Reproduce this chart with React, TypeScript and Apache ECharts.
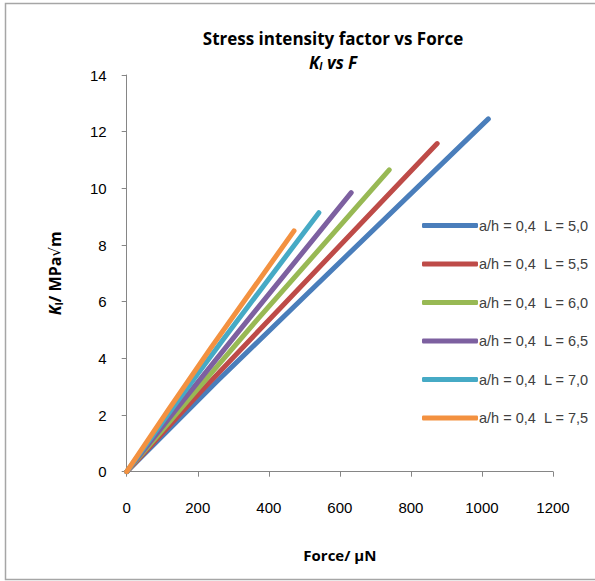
import React, { useEffect, useRef } from "react";
import * as echarts from "echarts";

const seriesNames = [
  "a/h = 0,4  L = 5,0",
  "a/h = 0,4  L = 5,5",
  "a/h = 0,4  L = 6,0",
  "a/h = 0,4  L = 6,5",
  "a/h = 0,4  L = 7,0",
  "a/h = 0,4  L = 7,5",
];
const colors = ["#4A7EBB", "#BE4B48", "#98B954", "#7D60A0", "#46AAC5", "#F39140"];

const L50: [number, number][] = [[0, 0], [255, 3.2], [510, 6.3], [1018, 12.45]];
const L55: [number, number][] = [[0, 0], [218, 2.95], [438, 5.85], [874, 11.58]];
const L60: [number, number][] = [[0, 0], [185, 2.7], [370, 5.4], [739, 10.65]];
const L65: [number, number][] = [[0, 0], [158, 2.5], [317, 4.98], [632, 9.85]];
const L70: [number, number][] = [[0, 0], [135, 2.35], [271, 4.66], [541, 9.14]];
const L75: [number, number][] = [[0, 0], [118, 2.2], [236, 4.35], [471, 8.5]];
const allData = [L50, L55, L60, L65, L70, L75];

const xTicks = { min: 0, max: 1200, interval: 200 };
const yTicks = { min: 0, max: 14, interval: 2 };

export default function App() {
  const ref = useRef<HTMLDivElement>(null);
  useEffect(() => {
    if (!ref.current) return;
    const chart = echarts.init(ref.current, undefined, { renderer: "svg" });
    const axisLine = { show: true, lineStyle: { color: "#868686", width: 1 } };
    const nameFont = { fontFamily: "Open Sans", fontWeight: "bold", fontSize: 15, color: "#000" };
    chart.setOption({
      animation: false,
      backgroundColor: "#ffffff",
      color: colors,
      grid: { left: 126.7, top: 75, right: 42, bottom: 109.3, containLabel: false },
      xAxis: {
        type: "value",
        ...xTicks,
        axisLine,
        axisTick: { show: true, inside: false, length: 5, lineStyle: { color: "#868686" } },
        splitLine: { show: false },
        axisLabel: {
          color: "#000",
          fontSize: 15,
          fontFamily: "Liberation Sans",
          margin: 28,
          formatter: (v: number) => String(v),
        },
        name: "{a|Force/ µN}",
        nameLocation: "middle",
        nameGap: 76,
        nameTextStyle: { rich: { a: nameFont } },
      },
      yAxis: {
        type: "value",
        ...yTicks,
        axisLine,
        axisTick: { show: true, inside: false, length: 5, lineStyle: { color: "#868686" } },
        splitLine: { show: false },
        axisLabel: {
          color: "#000",
          fontSize: 15,
          fontFamily: "Liberation Sans",
          margin: 20,
          formatter: (v: number) => String(v),
        },
        name: "{k|K}{s|I}{n|/ MPa}{r|√}{n|m}",
        nameLocation: "middle",
        nameRotate: 90,
        nameGap: 63,
        nameTextStyle: {
          rich: {
            k: { ...nameFont, fontStyle: "italic", fontSize: 16 },
            s: { ...nameFont, fontSize: 10, verticalAlign: "bottom", padding: [7, 0, 0, 0] },
            n: { ...nameFont, fontSize: 16 },
            r: { fontFamily: "DejaVu Sans", fontSize: 15, color: "#000" },
          },
        },
      },
      legend: {
        orient: "vertical",
        left: 417,
        top: 213,
        icon: "roundRect",
        itemWidth: 56,
        itemHeight: 5,
        itemGap: 23.5,
        textStyle: { color: "#404040", fontSize: 14.5, fontFamily: "Liberation Sans", lineHeight: 14, padding: [0, 0, 0, -4] },
        data: seriesNames,
      },
      graphic: [
        {
          type: "rect",
          shape: { x: 5.5, y: 3.5, width: 620, height: 576 },
          style: { fill: "none", stroke: "#a6a6a6", lineWidth: 1.5 },
          silent: true,
        },
        {
          type: "text",
          x: 333,
          y: 38,
          style: {
            text: "Stress intensity factor vs Force",
            fontFamily: "Open Sans",
            fontWeight: "bold",
            fontSize: 17,
            fill: "#000",
            textAlign: "center",
            textVerticalAlign: "middle",
          },
        },
        {
          type: "text",
          x: 333,
          y: 62,
          style: {
            text: "{k|K}{s|I}{b| vs F}",
            textAlign: "center",
            textVerticalAlign: "middle",
            rich: {
              k: { fontFamily: "Open Sans", fontWeight: "bold", fontStyle: "italic", fontSize: 17, fill: "#000" },
              s: { fontFamily: "Open Sans", fontWeight: "bold", fontStyle: "italic", fontSize: 10, fill: "#000", verticalAlign: "bottom", padding: [8, 0, 0, 0] },
              b: { fontFamily: "Open Sans", fontWeight: "bold", fontStyle: "italic", fontSize: 17, fill: "#000" },
            },
          },
        },
      ],
      series: allData.map((d, i) => ({
        name: seriesNames[i],
        type: "line",
        data: d,
        showSymbol: false,
        symbol: "none",
        lineStyle: { width: 5, color: colors[i], cap: "round", join: "round" },
        itemStyle: { color: colors[i] },
      })),
    });
    return () => chart.dispose();
  }, []);
  return (
    <div
      ref={ref}
      style={{ position: "fixed", left: 0, top: 0, width: 595, height: 581 }}
    />
  );
}
